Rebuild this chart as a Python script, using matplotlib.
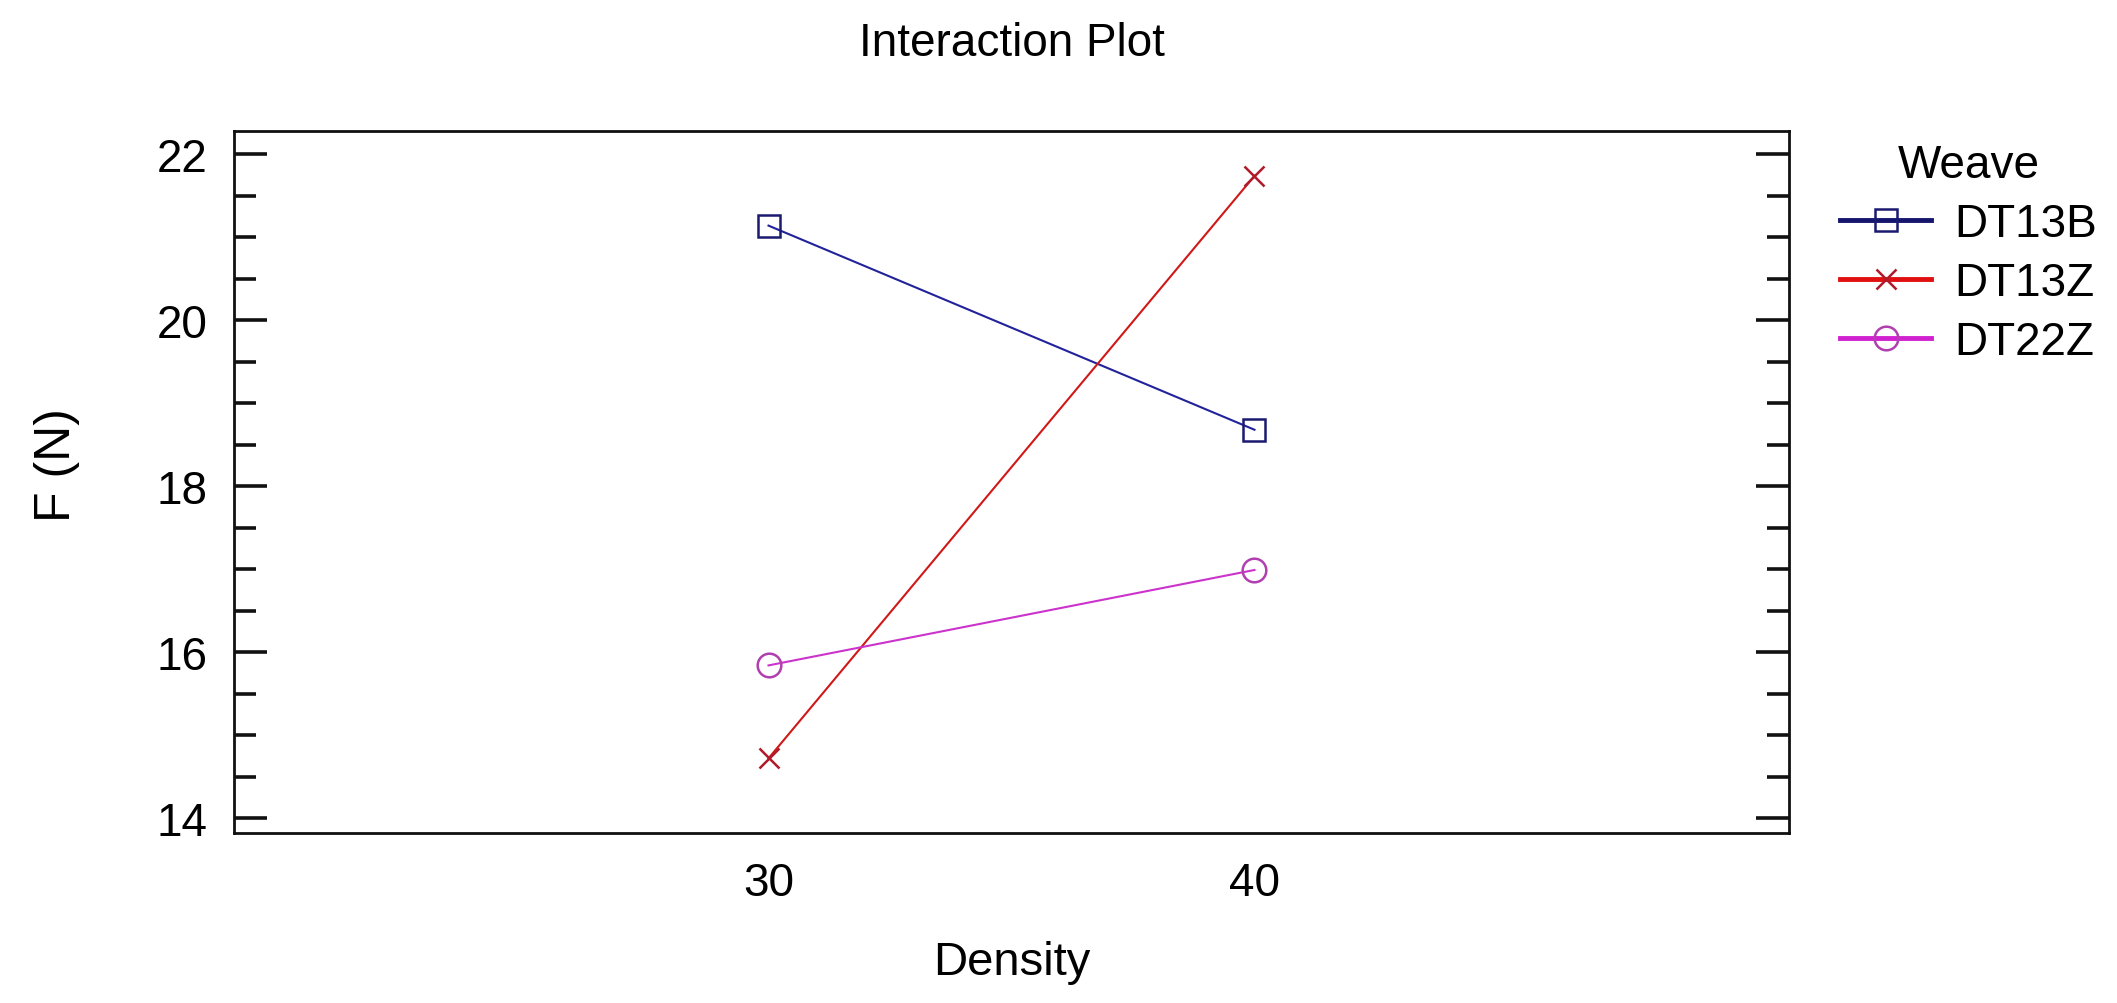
import matplotlib
matplotlib.use("Agg")
import matplotlib.pyplot as plt
from matplotlib.ticker import MultipleLocator

plt.rcParams['font.family'] = ['Liberation Sans', 'DejaVu Sans']

# Data
density = [30, 40]
weaves = ["DT13B", "DT13Z", "DT22Z"]
f_dt13b = [21.14, 18.68]
f_dt13z = [14.72, 21.74]
f_dt22z = [15.84, 16.99]
series = [f_dt13b, f_dt13z, f_dt22z]

line_colors = ['#22229a', '#d01818', '#cc33cc']
edge_colors = ['#1a1a70', '#b01a2a', '#b040b0']
legend_line_colors = ['#15156e', '#e01010', '#d020d0']
markers = ['s', 'x', 'o']
msizes = [16, 14, 17]

fig = plt.figure(figsize=(21.17, 10.04), dpi=100)
ax = fig.add_axes([0.1105, 0.1693, 0.8451 - 0.1105, 0.8685 - 0.1693])

for name, vals, lc, ec, mk, ms in zip(weaves, series, line_colors, edge_colors, markers, msizes):
    ax.plot(density, vals, color=lc, lw=1.5, marker=mk, ms=ms,
            mfc='none', mec=ec, mew=1.8, label=name)

ax.set_xlim(19, 51)
ax.set_ylim(13.82, 22.28)
ax.set_xticks(density)
ax.yaxis.set_major_locator(MultipleLocator(2))
ax.yaxis.set_minor_locator(MultipleLocator(0.5))

ax.tick_params(axis='y', which='both', direction='in', left=True, right=True,
               labelsize=33, pad=19, width=2.6, color='#111111')
ax.tick_params(axis='y', which='major', length=24)
ax.tick_params(axis='y', which='minor', length=16)
ax.tick_params(axis='x', which='both', length=0, labelsize=33, pad=20)

for sp in ax.spines.values():
    sp.set_linewidth(2.0)
    sp.set_color('#111111')

ax.set_title("Interaction Plot", fontsize=33, pad=55)
ax.set_xlabel("Density", fontsize=34, labelpad=25)
ax.set_ylabel("F (N)", fontsize=36, labelpad=55)
ax.yaxis.label.set_y(0.526)

leg = ax.legend(title="Weave", loc='upper left', bbox_to_anchor=(0.869, 0.8566),
                bbox_transform=fig.transFigure, frameon=False, fontsize=33,
                title_fontsize=33, borderpad=0, borderaxespad=0,
                handlelength=2.0, handletextpad=0.5, labelspacing=0.33)
for ln, c in zip(leg.get_lines(), legend_line_colors):
    ln.set_linewidth(3.5)
    ln.set_color(c)

fig.savefig("out.png", dpi=100)
